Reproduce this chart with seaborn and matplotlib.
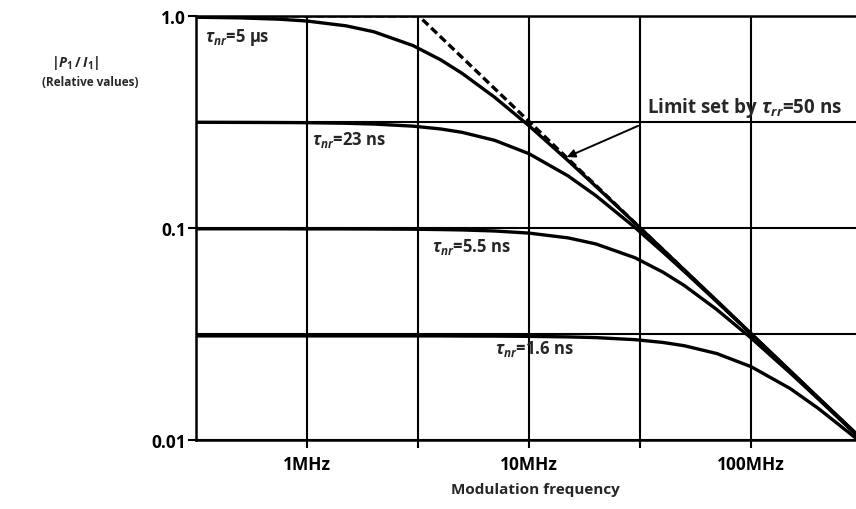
import matplotlib
matplotlib.use("Agg")

import matplotlib.pyplot as plt
import seaborn as sns

freq_mhz = [0.316, 0.5, 0.75, 1, 1.5, 2, 3, 4, 5, 7, 10, 15, 20, 30, 40, 50, 70, 100, 150, 200, 316]

# |P1/I1| relative values, one list per non-radiative lifetime
resp_5us = [0.985, 0.978, 0.964, 0.945, 0.897, 0.841, 0.724, 0.620, 0.535, 0.413, 0.303,
            0.2075, 0.157, 0.1055, 0.0793, 0.0635, 0.0455, 0.0318, 0.0212, 0.0159, 0.0101]
resp_23ns = [0.315, 0.3146, 0.3141, 0.3135, 0.3116, 0.309, 0.302, 0.2929, 0.2823, 0.2589, 0.2239,
             0.1759, 0.142, 0.1005, 0.0771, 0.0624, 0.045, 0.0317, 0.0212, 0.0159, 0.0101]
resp_5p5ns = [0.0991, 0.0991, 0.0991, 0.099, 0.099, 0.0989, 0.0987, 0.0983, 0.0979, 0.0968, 0.0946,
              0.0898, 0.0841, 0.0724, 0.062, 0.0536, 0.0413, 0.0303, 0.02075, 0.0157, 0.0100]
resp_1p6ns = [0.031, 0.031, 0.031, 0.031, 0.031, 0.031, 0.031, 0.031, 0.03096, 0.03093, 0.03085,
              0.03067, 0.03043, 0.02976, 0.02888, 0.02787, 0.02561, 0.0222, 0.01751, 0.01416, 0.0097]

# asymptote set by the radiative lifetime
limit_freq = [0.316, 3.18, 316]
limit_resp = [1.0, 1.0, 0.01]

x_major = [1, 10, 100]
x_labels = ["1MHz", "10MHz", "100MHz"]
x_minor = [3.16, 31.6]
y_major = [1.0, 0.1, 0.01]
y_labels = ["1.0", "0.1", "0.01"]
y_minor = [0.316, 0.0316]

sns.set_style("white")
plt.rcParams["font.family"] = ["Open Sans", "DejaVu Sans"]
plt.rcParams["font.weight"] = "bold"
plt.rcParams["mathtext.fontset"] = "custom"
plt.rcParams["mathtext.rm"] = "Open Sans:bold"
plt.rcParams["mathtext.it"] = "Open Sans:italic:bold"
plt.rcParams["mathtext.bf"] = "Open Sans:bold"

fig = plt.figure(figsize=(8.56, 5.10), dpi=100)
ax = fig.add_axes([0.229, 0.135, 0.778, 0.832])

ax.set_xscale("log")
ax.set_yscale("log")
ax.set_xlim(0.316, 316)
ax.set_ylim(0.01, 1.0)

ax.set_xticks(x_major)
ax.set_xticklabels(x_labels, fontsize=12.5, fontweight="bold")
ax.set_xticks(x_minor, minor=True)
ax.set_yticks(y_major)
ax.set_yticklabels(y_labels, fontsize=12.5, fontweight="bold")
ax.set_yticks(y_minor, minor=True)
ax.xaxis.set_minor_formatter(plt.NullFormatter())
ax.yaxis.set_minor_formatter(plt.NullFormatter())

ax.grid(True, which="both", color="black", lw=1.5)
ax.tick_params(axis="x", which="both", bottom=True, direction="out", length=6, width=1.5,
               colors="black", pad=5)
ax.tick_params(axis="y", which="major", left=True, direction="out", length=6, width=1.5,
               colors="black", pad=1)
ax.tick_params(axis="y", which="minor", left=False, length=0)

for side in ["left", "bottom", "top"]:
    ax.spines[side].set_color("black")
    ax.spines[side].set_linewidth(1.8)
ax.spines["right"].set_visible(False)

for resp in [resp_5us, resp_23ns, resp_5p5ns, resp_1p6ns]:
    sns.lineplot(x=freq_mhz, y=resp, ax=ax, color="black", lw=2.4, sort=False, zorder=3)

sns.lineplot(x=limit_freq, y=limit_resp, ax=ax, color="black", lw=2.4, sort=False,
             dashes=False, linestyle=(0, (2.4, 1.2)), zorder=3)

ax.set_xlabel("")
ax.set_ylabel("")

lab_kw = dict(fontsize=12, fontweight="bold", ha="left", va="center", zorder=4)
ax.text(0.347, 0.80, r"$\tau_{nr}$=5 µs", **lab_kw)
ax.text(1.05, 0.263, r"$\tau_{nr}$=23 ns", **lab_kw)
ax.text(3.66, 0.082, r"$\tau_{nr}$=5.5 ns", **lab_kw)
ax.text(7.03, 0.0272, r"$\tau_{nr}$=1.6 ns", **lab_kw)
ax.text(34.0, 0.372, r"Limit set by $\tau_{rr}$=50 ns", fontsize=13.5, fontweight="bold",
        ha="left", va="center", zorder=4)

ax.annotate("", xy=(14.8, 0.216), xytext=(31.0, 0.303),
            arrowprops=dict(arrowstyle="-|>", color="black", lw=1.4, mutation_scale=12,
                            shrinkA=0, shrinkB=0), zorder=4)

fig.text(75 / 856, 1 - 63 / 510, r"$|P_1\,/\,I_1|$", fontsize=10, ha="center", va="center")
fig.text(90 / 856, 1 - 82 / 510, "(Relative values)", fontsize=8.5, fontweight="bold",
         ha="center", va="center")
fig.text(535 / 856, 1 - 490 / 510, "Modulation frequency", fontsize=11, fontweight="bold",
         ha="center", va="center")

fig.savefig("out.png", dpi=100)
plt.close(fig)
